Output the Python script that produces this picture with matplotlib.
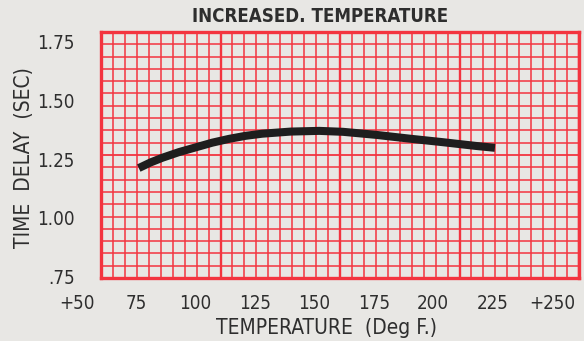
import numpy as np
import matplotlib.pyplot as plt
from matplotlib import transforms

# values
temp = [76, 81, 86, 93, 100, 107, 114, 121, 128, 140, 152, 162, 176, 190, 204, 218, 226]
delay = [1.212, 1.236, 1.256, 1.28, 1.30, 1.32, 1.336, 1.349, 1.358, 1.367, 1.370, 1.366, 1.353, 1.337, 1.322, 1.306, 1.298]
xtick_vals = [50, 75, 100, 125, 150, 175, 200, 225, 250]
xtick_labs = ["+50", "75", "100", "125", "150", "175", "200", "225", "+250"]
ytick_vals = [0.75, 1.00, 1.25, 1.50, 1.75]
ytick_labs = [".75", "1.00", "1.25", "1.50", "1.75"]

bg = "#e8e7e4"
red = "#f3343f"
txt = "#2e2e2e"
plt.rcParams["font.family"] = ["DejaVu Sans"]
plt.rcParams["font.stretch"] = "condensed"

fig = plt.figure(figsize=(5.84, 3.41), dpi=100)
fig.patch.set_facecolor(bg)
rect = [101/584, 1-278/341, 478/584, 246/341]

# graph paper
g = fig.add_axes(rect)
g.set_facecolor(bg)
g.set_xlim(0, 40)
g.set_ylim(0, 20)
for i in range(41):
    lw = 1.7 if i % 10 == 0 else 1.1
    g.axvline(i, color=red, lw=lw)
for j in range(21):
    lw = 1.3 if j % 10 == 0 else 1.1
    g.axhline(j, color=red, lw=lw)
for s in g.spines.values():
    s.set_color(red)
    s.set_linewidth(2.4)
g.set_xticks([])
g.set_yticks([])

# data axes on top
ax = fig.add_axes(rect)
ax.set_facecolor("none")
ax.set_xlim(60.1, 261.4)
ax.set_ylim(0.745, 1.79)
for s in ax.spines.values():
    s.set_visible(False)
ax.plot(temp, delay, color="#1e1e1e", lw=5.8, solid_capstyle="butt")

ax.set_xticks([])
ax.set_yticks(ytick_vals)
ax.set_yticklabels(ytick_labs)
ax.tick_params(axis="y", length=0, pad=19, labelsize=13.5, labelcolor=txt)

trans = transforms.blended_transform_factory(ax.transData, ax.transAxes)
for v, lab in zip(xtick_vals, xtick_labs):
    ax.text(v, -0.105, lab, transform=trans, ha="center", va="center",
            fontsize=13.5, color=txt, clip_on=False)

fig.text(320/584, 1-17/341, "INCREASED. TEMPERATURE", ha="center", va="center",
         fontsize=13.4, fontweight="bold", color=txt)
fig.text(326/584, 1-328/341, "TEMPERATURE  (Deg F.)", ha="center", va="center",
         fontsize=15, color=txt)
fig.text(24/584, 1-158/341, "TIME  DELAY  (SEC)", ha="center", va="center",
         rotation=90, fontsize=15, color=txt)

fig.savefig("out.png", dpi=100, facecolor=bg)
